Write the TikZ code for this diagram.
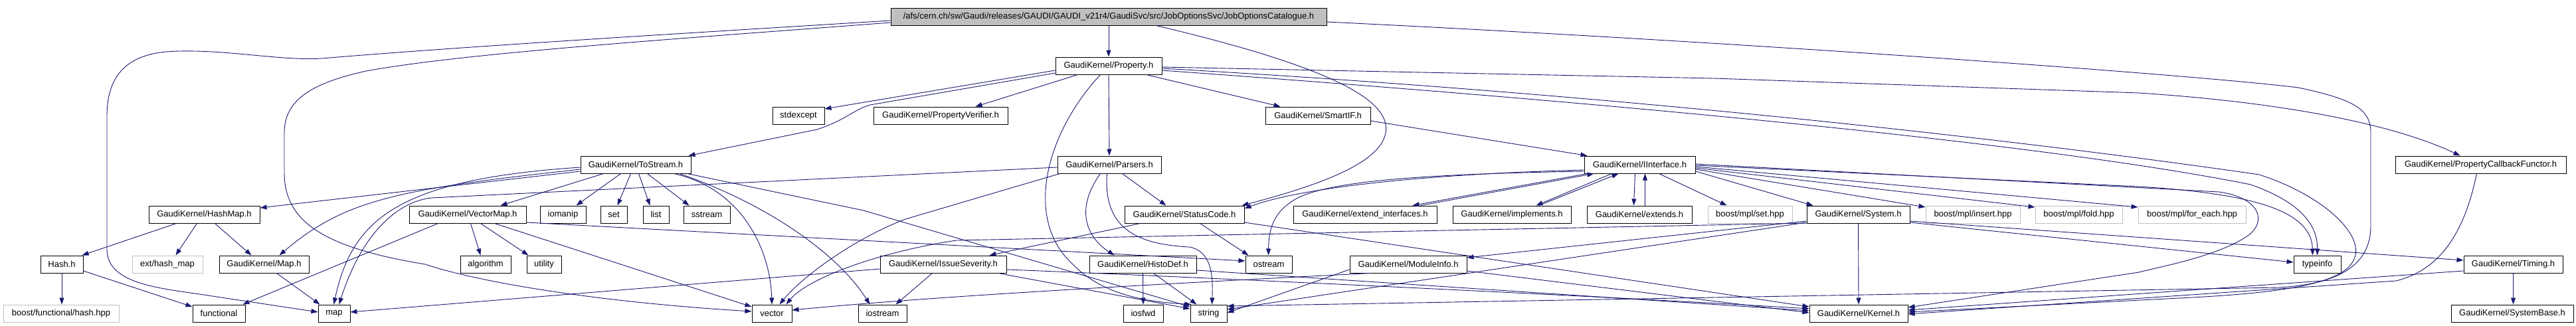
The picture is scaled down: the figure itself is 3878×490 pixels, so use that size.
\documentclass[tikz,border=0pt]{standalone}
\usepackage{fontspec}
\setmainfont{Liberation Sans}
\usetikzlibrary{arrows.meta}
\definecolor{edgecol}{HTML}{191970}
\definecolor{graybd}{HTML}{BFBFBF}
\begin{document}
\begin{tikzpicture}[x=1pt,y=-1pt,
  box/.style={draw=black, line width=1pt, minimum height=26pt, inner sep=0pt, fill=white, text=black, font=\fontsize{13}{15}\selectfont},
  gbox/.style={box, draw=graybd},
  topbox/.style={box, fill=graybd},
  dep/.style={draw=edgecol, line width=0.9pt, -{Triangle[length=10pt,width=7pt]}, fill=none}]
\useasboundingbox (0,0) rectangle (3878,490);
\fill[white] (0,0) rectangle (3878,490);
% row 1-4
\node[topbox, minimum width=656pt] (top) at (1669,25) {/afs/cern.ch/sw/Gaudi/releases/GAUDI/GAUDI\_v21r4/GaudiSvc/src/JobOptionsSvc/JobOptionsCatalogue.h};
\node[box, minimum width=160pt] (prop) at (1669,99) {GaudiKernel/Property.h};
\node[box, minimum width=78pt] (stdexc) at (1202,174) {stdexcept};
\node[box, minimum width=202pt] (pverif) at (1416,174) {GaudiKernel/PropertyVerifier.h};
\node[box, minimum width=158pt] (smartif) at (1984,174) {GaudiKernel/SmartIF.h};
\node[box, minimum width=166pt] (tostream) at (957,248) {GaudiKernel/ToStream.h};
\node[box, minimum width=156pt] (parsers) at (1670,248) {GaudiKernel/Parsers.h};
\node[box, minimum width=167pt] (iinterface) at (2468.5,248) {GaudiKernel/IInterface.h};
\node[box, minimum width=257pt] (pcf) at (3734.5,248) {GaudiKernel/PropertyCallbackFunctor.h};
% row 5
\node[box, minimum width=167pt] (hashmap) at (307.5,323) {GaudiKernel/HashMap.h};
\node[box, minimum width=176pt] (vectormap) at (704,323) {GaudiKernel/VectorMap.h};
\node[box, minimum width=69pt] (iomanip) at (847.5,323) {iomanip};
\node[box, minimum width=40pt] (set) at (924,323) {set};
\node[box, minimum width=39pt] (list) at (987.5,323) {list};
\node[box, minimum width=70pt] (sstream) at (1064,323) {sstream};
\node[box, minimum width=180pt] (statuscode) at (1783,323) {GaudiKernel/StatusCode.h};
\node[box, minimum width=216pt] (extint) at (2055,323) {GaudiKernel/extend\_interfaces.h};
\node[box, minimum width=178pt] (implements) at (2276,323) {GaudiKernel/implements.h};
\node[box, minimum width=158pt] (extends) at (2468,323) {GaudiKernel/extends.h};
\node[gbox, minimum width=127pt] (mplset) at (2634.5,323) {boost/mpl/set.hpp};
\node[box, minimum width=155pt] (system) at (2797.5,323) {GaudiKernel/System.h};
\node[gbox, minimum width=142pt] (mplinsert) at (2970,323) {boost/mpl/insert.hpp};
\node[gbox, minimum width=131pt] (mplfold) at (3129.5,323) {boost/mpl/fold.hpp};
\node[gbox, minimum width=162pt] (mplforeach) at (3300,323) {boost/mpl/for\_each.hpp};
% row 6
\node[box, minimum width=64pt] (hash) at (93,398) {Hash.h};
\node[gbox, minimum width=106pt] (exthashmap) at (252,398) {ext/hash\_map};
\node[box, minimum width=135pt] (maph) at (397.5,398) {GaudiKernel/Map.h};
\node[box, minimum width=76pt] (algorithm) at (731,398) {algorithm};
\node[box, minimum width=52pt] (utility) at (819,398) {utility};
\node[box, minimum width=190pt] (issue) at (1420,398) {GaudiKernel/IssueSeverity.h};
\node[box, minimum width=161pt] (histodef) at (1720.5,398) {GaudiKernel/HistoDef.h};
\node[box, minimum width=70pt] (ostream) at (1910,398) {ostream};
\node[box, minimum width=176pt] (moduleinfo) at (2120,398) {GaudiKernel/ModuleInfo.h};
\node[box, minimum width=71pt] (typeinfo) at (3488.5,398) {typeinfo};
\node[box, minimum width=149pt] (timing) at (3783.5,398) {GaudiKernel/Timing.h};
% row 7
\node[gbox, minimum width=174pt] (boosthash) at (92,472) {boost/functional/hash.hpp};
\node[box, minimum width=79pt] (functional) at (329.5,472) {functional};
\node[box, minimum width=48pt] (map) at (503,472) {map};
\node[box, minimum width=60pt] (vector) at (1162,472) {vector};
\node[box, minimum width=73pt] (iostream) at (1328.5,472) {iostream};
\node[box, minimum width=60pt] (iosfwd) at (1721,472) {iosfwd};
\node[box, minimum width=55pt] (string) at (1819.5,472) {string};
\node[box, minimum width=148pt] (kernel) at (2798,472) {GaudiKernel/Kernel.h};
\node[box, minimum width=184pt] (systembase) at (3782,472) {GaudiKernel/SystemBase.h};

% ---- edges from top
\draw[dep] (top.south) -- (prop.north);
\draw[dep] ([yshift=-6pt]top.west) .. controls (1000,52) and (700,70) .. (484,88) .. controls (420,92) and (330,72) .. (250,78) .. controls (185,84) and (161,120) .. (161,175) -- (161,375) .. controls (161,425) and (230,433) .. (300,443) -- ([yshift=2pt]map.west);
\draw[dep] ([yshift=-9pt]top.west) .. controls (1000,60) and (700,80) .. (551,107) .. controls (470,125) and (428,150) .. (428,200) -- (428,260) .. controls (428,330) and (480,372) .. (640,398) .. controls (720,425) and (900,455) .. ([yshift=3pt]vector.west);
\draw[dep] ([xshift=400pt]top.south west) .. controls (2000,100) and (2095,150) .. (2086,200) .. controls (2078,245) and (1990,278) .. ([xshift=-4pt]statuscode.north east);
\draw[dep] ([yshift=-8pt]top.east) .. controls (2600,62) and (3300,112) .. (3460,132) .. controls (3545,150) and (3569,165) .. (3569,200) -- (3569,340) .. controls (3569,400) and (3520,428) .. (3430,433) -- ([yshift=11pt]string.east);

% ---- Property.h
\draw[dep] ([yshift=-7pt]prop.west) -- ([yshift=10pt]stdexc.east);
\draw[dep] ([yshift=-11pt]prop.west) -- (1310,158) .. controls (1285,165) and (1275,180) .. (1230,195) -- ([xshift=-4pt]tostream.north east);
\draw[dep] ([xshift=34pt]prop.south west) -- ([xshift=154pt]pverif.north west);
\draw[dep] ([xshift=137pt]prop.south west) -- ([xshift=23pt]smartif.north west);
\draw[dep] (prop.south) -- (parsers.north);
\draw[dep] ([xshift=68pt]prop.south west) .. controls (1575,200) and (1540,330) .. (1615,398) .. controls (1660,445) and (1730,455) .. ([xshift=2pt]string.north west);
\draw[dep] ([yshift=-2pt]prop.east) -- (2580,118) -- (3220,140) .. controls (3450,155) and (3610,190) .. ([xshift=98pt]pcf.north west);
\draw[dep] ([yshift=-4pt]prop.east) .. controls (2400,140) and (3000,205) .. (3401,263) .. controls (3500,295) and (3560,355) .. (3544,390) .. controls (3530,425) and (3450,440) .. (3300,448) -- ([yshift=2pt]kernel.east);
\draw[dep] ([yshift=-7pt]prop.east) .. controls (2500,160) and (3100,220) .. (3388,278) .. controls (3465,305) and (3489,340) .. ([xshift=36pt]typeinfo.north west);

% ---- ToStream.h
\draw[dep] ([xshift=35pt]tostream.south west) -- ([xshift=138pt]vectormap.north west);
\draw[dep] ([xshift=61pt]tostream.south west) -- ([xshift=55pt]iomanip.north west);
\draw[dep] ([xshift=76pt]tostream.south west) -- ([xshift=26pt]set.north west);
\draw[dep] ([xshift=88pt]tostream.south west) -- ([xshift=11pt]list.north west);
\draw[dep] ([xshift=101pt]tostream.south west) -- ([xshift=9pt]sstream.north west);
\draw[dep] ([xshift=141pt]tostream.south west) .. controls (1120,285) and (1160,380) .. (vector.north);
\draw[dep] ([xshift=149pt]tostream.south west) .. controls (1150,305) and (1260,380) .. ([xshift=18pt]iostream.north west);
\draw[dep] ([xshift=161pt]tostream.south west) -- (1300,317) -- ([yshift=10pt]string.west);
\draw[dep] ([yshift=-10pt]tostream.west) -- ([yshift=10pt]hashmap.east);
\draw[dep] ([yshift=-7pt]tostream.west) .. controls (600,285) and (520,300) .. ([xshift=91pt]maph.north west);
\draw[dep] ([yshift=-4pt]tostream.west) .. controls (600,270) and (530,330) .. ([xshift=24pt]map.north west);

% ---- Parsers.h
\draw[dep] ([xshift=98pt]parsers.south west) -- ([xshift=63pt]statuscode.north west);
\draw[dep] ([xshift=65pt]parsers.south west) .. controls (1615,320) and (1640,360) .. ([xshift=38pt]histodef.north west);
\draw[dep] ([xshift=75pt]parsers.south west) .. controls (1660,350) and (1720,368) .. (1790,372) .. controls (1826,378) and (1826,420) .. ([xshift=33pt]string.north west);
\draw[dep] ([yshift=-4pt]parsers.west) -- (650,298) .. controls (600,303) and (545,350) .. ([xshift=32pt]map.north west);
\draw[dep] ([xshift=4pt]parsers.south west) -- (1363,330) .. controls (1280,362) and (1205,420) .. ([xshift=42pt]vector.north west);

% ---- HashMap, Hash, Map
\draw[dep] ([xshift=42pt]hashmap.south west) -- ([xshift=-2pt]hash.north east);
\draw[dep] ([xshift=73pt]hashmap.south west) -- ([xshift=66pt]exthashmap.north west);
\draw[dep] ([xshift=100pt]hashmap.south west) -- ([xshift=49pt]maph.north west);
\draw[dep] (hash.south) -- (hash.south |- boosthash.north);
\draw[dep] ([yshift=-10pt]hash.east) -- ([yshift=10pt]functional.west);
\draw[dep] ([xshift=87pt]maph.south west) -- ([xshift=3pt]map.north west);

% ---- VectorMap
\draw[dep] ([xshift=93pt]vectormap.south west) -- ([xshift=31pt]algorithm.north west);
\draw[dep] ([xshift=108pt]vectormap.south west) -- ([xshift=3pt]utility.north west);
\draw[dep] ([xshift=44pt]vectormap.south west) -- ([xshift=76pt]functional.north west);
\draw[dep] ([xshift=129pt]vectormap.south west) -- ([yshift=10pt]vector.west);
\draw[dep] ([yshift=-12pt]vectormap.east) -- ([yshift=5pt]ostream.west);

% ---- StatusCode
\draw[dep] ([xshift=114pt]statuscode.south west) -- ([xshift=5pt]ostream.north west);
\draw[dep] ([xshift=24pt]statuscode.south west) -- ([xshift=165pt]issue.north west);
\draw[dep] ([yshift=-12pt]statuscode.east) -- ([yshift=10pt]kernel.west);

% ---- IssueSeverity
\draw[dep] ([yshift=-7pt]issue.west) -- ([yshift=2pt]map.east);
\draw[dep] ([xshift=79pt]issue.south west) -- ([xshift=57pt]iostream.north west);
\draw[dep] ([xshift=178pt]issue.south west) -- ([yshift=7pt]string.west);
\draw[dep] ([yshift=-8pt]issue.east) .. controls (1700,413) and (2400,445) .. ([yshift=7pt]kernel.west);

% ---- HistoDef
\draw[dep] (histodef.south) -- (iosfwd.north);
\draw[dep] ([xshift=97pt]histodef.south west) -- ([xshift=10pt]string.north west);
\draw[dep] ([yshift=-9pt]histodef.east) -- ([yshift=4pt]kernel.west);

% ---- IInterface
\draw[dep] ([yshift=-8pt]iinterface.west) .. controls (2150,262) and (1960,282) .. ([yshift=9pt]statuscode.east);
\draw[dep] ([yshift=-10pt]iinterface.west) .. controls (2150,262) and (2000,272) .. (1950,300) .. controls (1920,318) and (1910,340) .. ([xshift=35pt]ostream.north west);
\draw[dep] ([xshift=5pt]iinterface.south west) -- ([xshift=180pt]extint.north west);
\draw[dep] ([xshift=192pt]extint.north west) -- ([xshift=15pt]iinterface.south west);
\draw[dep] ([xshift=42pt]iinterface.south west) -- ([xshift=126pt]implements.north west);
\draw[dep] ([xshift=130pt]implements.north west) -- ([xshift=52pt]iinterface.south west);
\draw[dep] ([xshift=77pt]iinterface.south west) -- ([xshift=71pt]extends.north west);
\draw[dep] ([xshift=88pt]extends.north west) -- ([xshift=92pt]iinterface.south west);
\draw[dep] ([xshift=113pt]iinterface.south west) -- ([xshift=29pt]mplset.north west);
\draw[dep] ([yshift=-10pt]iinterface.east) -- ([xshift=10pt]system.north west);
\draw[dep] ([yshift=-7pt]iinterface.east) -- ([yshift=11pt]mplinsert.west);
\draw[dep] ([yshift=-5pt]iinterface.east) -- ([yshift=11pt]mplfold.west);
\draw[dep] ([yshift=-3pt]iinterface.east) -- ([yshift=11pt]mplforeach.west);
\draw[dep] ([yshift=-1pt]iinterface.east) -- (3220,281) .. controls (3400,292) and (3480,320) .. ([xshift=29pt]typeinfo.north west);
\draw[dep] ([yshift=1pt]iinterface.east) -- (3340,289) .. controls (3405,298) and (3412,335) .. (3384,355) .. controls (3340,385) and (3260,400) .. (3220,410) -- ([yshift=9pt]kernel.east);
\draw[dep] ([yshift=-8pt]smartif.east) -- ([xshift=5pt]iinterface.north west);

% ---- System
\draw[dep] (system.south) -- (kernel.north);
\draw[dep] ([yshift=-10pt]system.west) -- ([yshift=10pt]moduleinfo.east);
\draw[dep] ([yshift=-12pt]system.west) -- ([yshift=6pt]string.east);
\draw[dep] ([yshift=-13pt]system.west) -- (1440,362) .. controls (1320,380) and (1215,420) .. ([xshift=52pt]vector.north west);
\draw[dep] ([yshift=-12pt]system.east) -- ([yshift=3pt]typeinfo.west);
\draw[dep] ([yshift=-10pt]system.east) -- ([yshift=6pt]timing.west);

% ---- ModuleInfo, Timing, PropertyCallbackFunctor
\draw[dep] ([yshift=-8pt]moduleinfo.west) -- ([yshift=1pt]string.east);
\draw[dep] ([xshift=31pt]moduleinfo.south west) .. controls (1700,430) and (1400,447) .. ([yshift=5pt]vector.east);
\draw[dep] ([yshift=-10pt]moduleinfo.east) -- ([yshift=1pt]kernel.west);
\draw[dep] (timing.south) -- (timing.south |- systembase.north);
\draw[dep] ([yshift=-10pt]timing.west) -- ([yshift=5pt]kernel.east);
\draw[dep] ([xshift=123pt]pcf.south west) .. controls (3712,340) and (3680,405) .. (3607,423) -- ([yshift=-1pt]kernel.east);
\end{tikzpicture}
\end{document}
